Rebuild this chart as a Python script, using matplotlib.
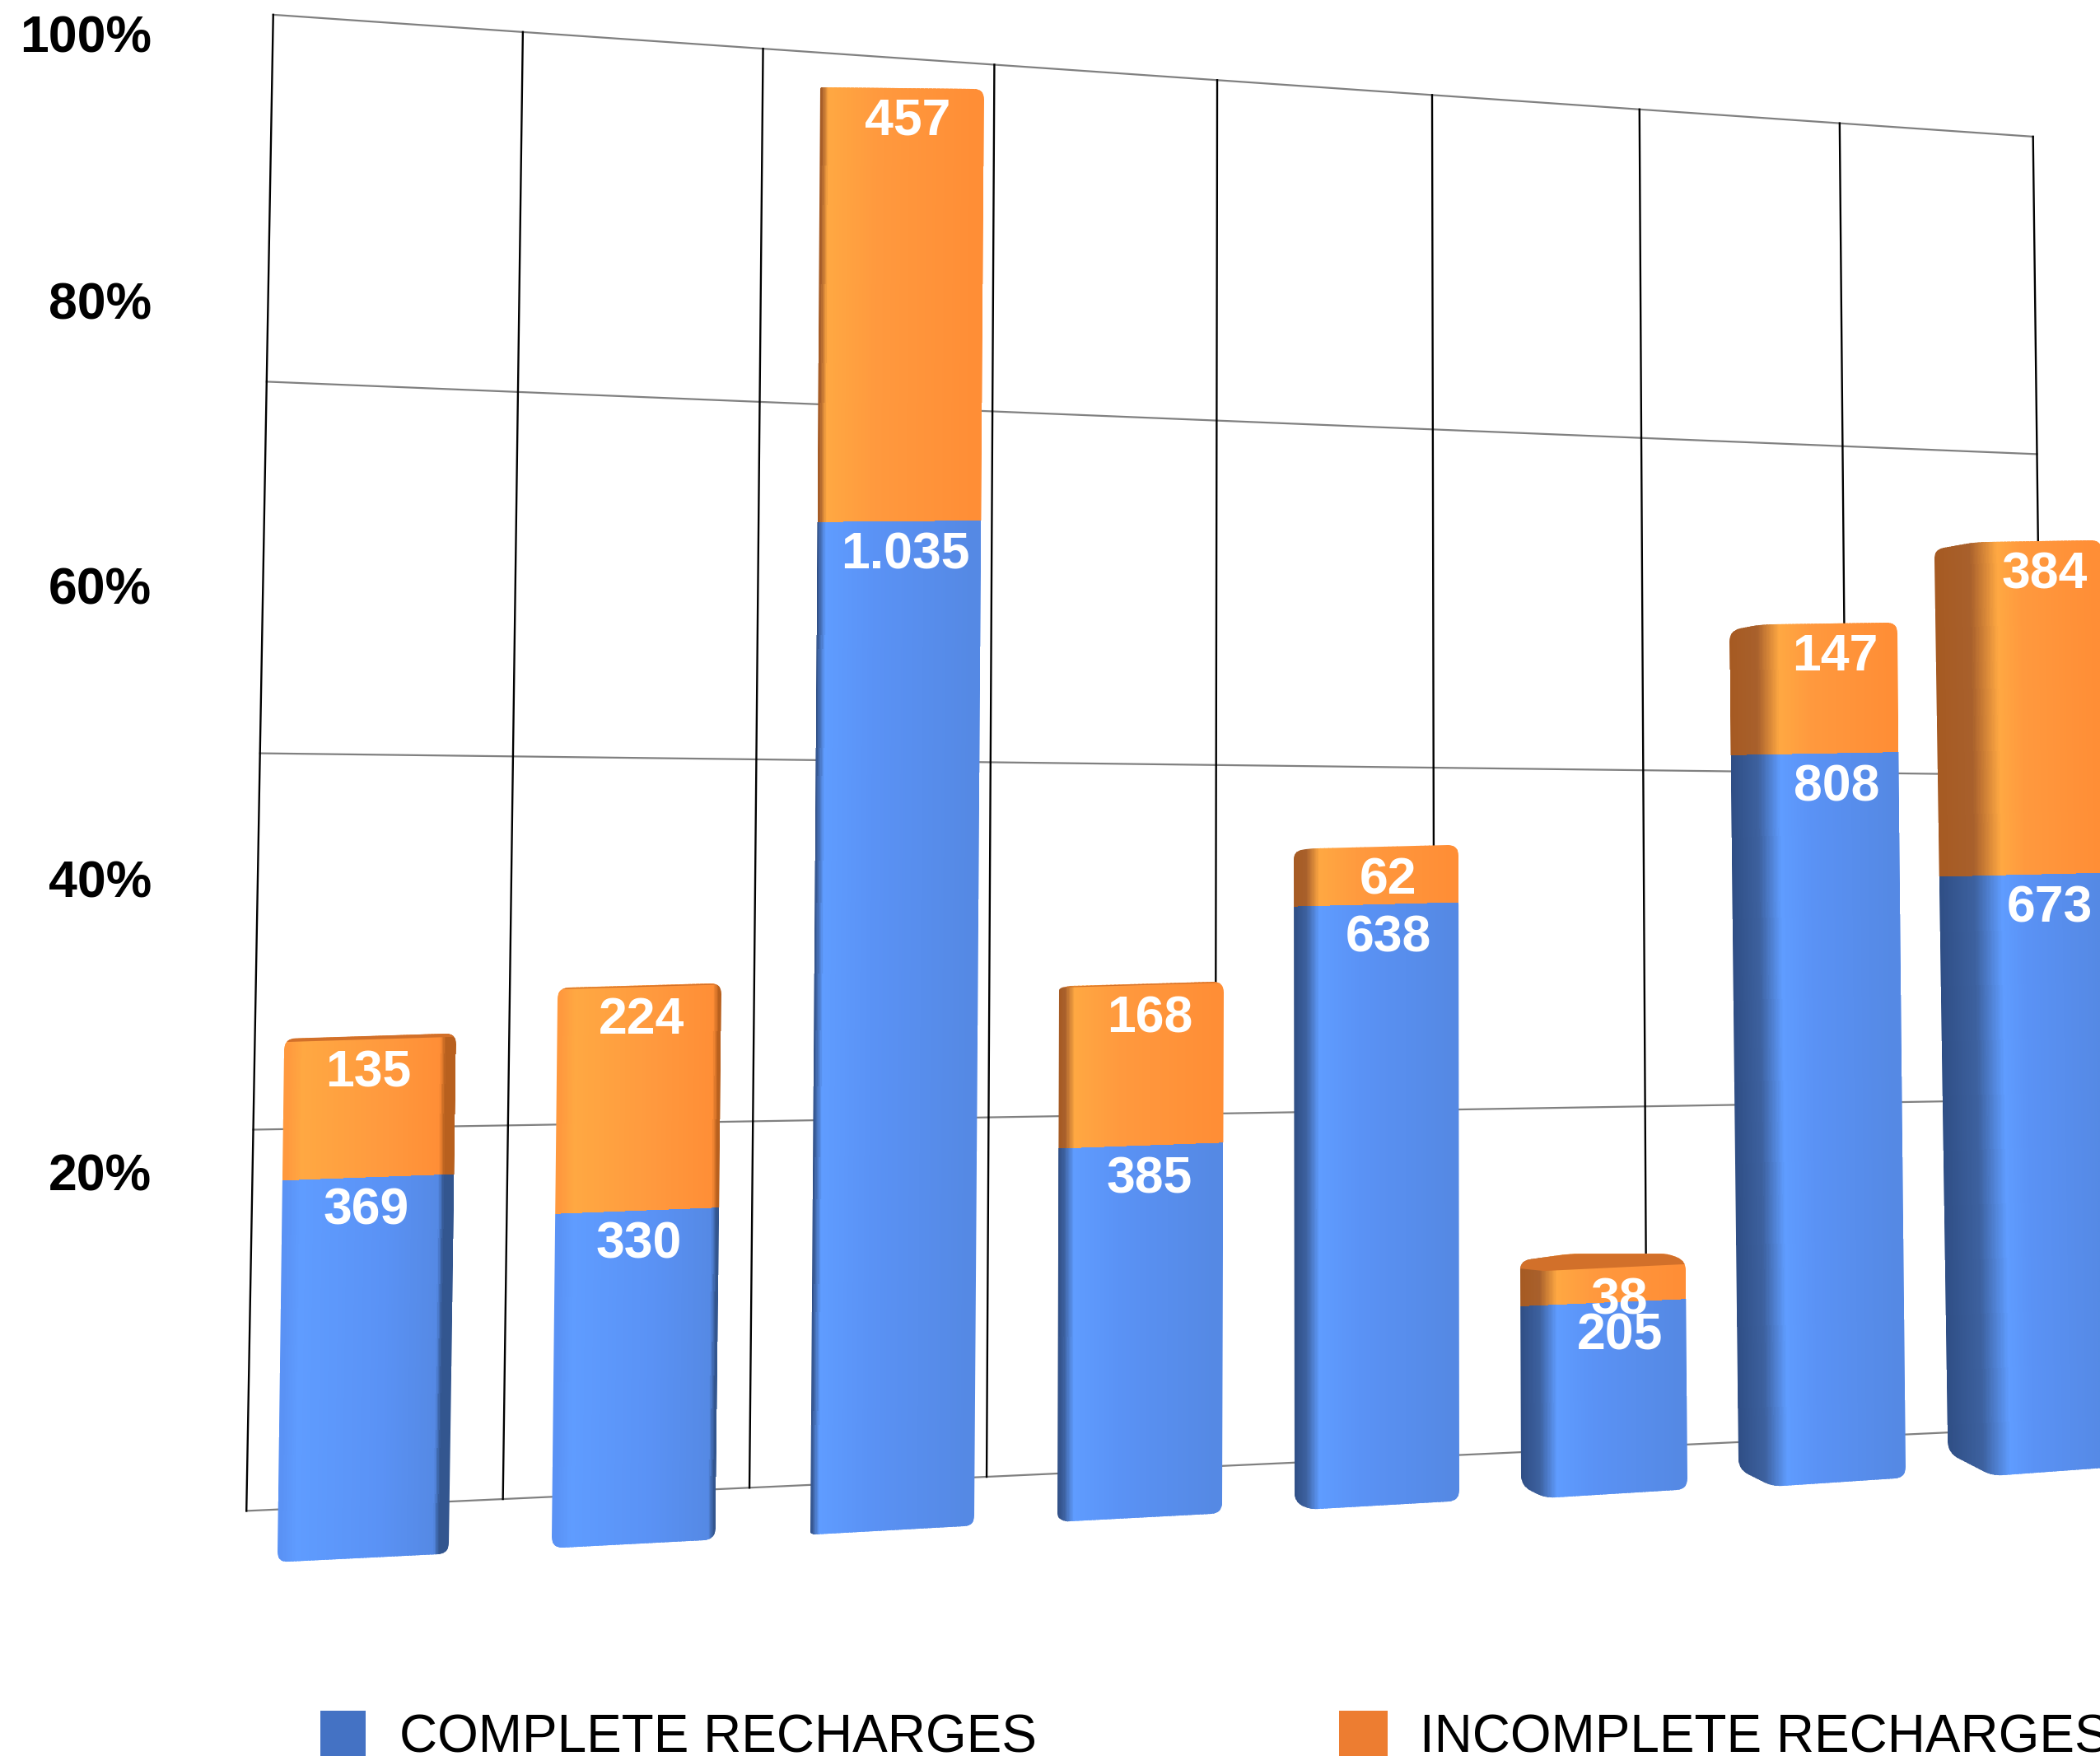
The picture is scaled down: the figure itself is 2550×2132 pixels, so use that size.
import numpy as np
import matplotlib
matplotlib.use("Agg")
import matplotlib.pyplot as plt
from matplotlib.path import Path
from matplotlib.patches import PathPatch, Rectangle
from matplotlib.colors import to_rgb

# ---- data ----
complete = [369, 330, 1035, 385, 638, 205, 808, 673]
incomplete = [135, 224, 457, 168, 62, 38, 147, 384]
tick_labels = ["100%", "80%", "60%", "40%", "20%"]
series_names = ["COMPLETE RECHARGES", "INCOMPLETE RECHARGES"]

# ---- layout (reference-pixel canvas, 1568 wide) ----
W, H = 1568, 1311
plt.rcParams['font.family'] = ['Liberation Sans', 'DejaVu Sans']
fig = plt.figure(figsize=(25.5, 21.32), dpi=100)
ax = fig.add_axes([0, 0, 1, 1])
ax.set_xlim(0, W)
ax.set_ylim(H, 0)
ax.axis("off")
ax.set_autoscale_on(False)


def homography(src, dst):
    A, b = [], []
    for (u, v), (x, y) in zip(src, dst):
        A.append([u, v, 1, 0, 0, 0, -u * x, -v * x]); b.append(x)
        A.append([0, 0, 0, u, v, 1, -u * y, -v * y]); b.append(y)
    h = np.linalg.solve(np.array(A, float), np.array(b, float))
    M = np.append(h, 1).reshape(3, 3)

    def project(u, v):
        d = M[2, 0] * u + M[2, 1] * v + 1
        return (M[0, 0] * u + M[0, 1] * v + M[0, 2]) / d, (M[1, 0] * u + M[1, 1] * v + M[1, 2]) / d
    return project


# back wall: u = category boundary 0..8, v = grid step 0..4
wall = homography([(0, 0), (0, 4), (8, 4), (8, 0)],
                  [(184, 1128), (204, 11), (1518, 102), (1530, 1066)])


# bar plane: u = category index, v = value
def front(u, v):
    d = 1 + 0.023 * u
    bx = (271 + 212.9 * u) / d
    by = (1163 + 16.0 * u) / d
    return bx + v * (0.011 - 0.003 * u), by - v * (1 - 1.8e-5 * v) * 0.775 / (1 + 0.0225 * u)


for k in range(5):
    p0, p1 = wall(0, k), wall(8, k)
    if k == 0:
        p1 = wall(8.5, k)
    ax.plot([p0[0], p1[0]], [p0[1], p1[1]], color="#808080", lw=1.6, zorder=1)
for k in range(9):
    p0, p1 = wall(k, 0), wall(k, 4)
    ax.plot([p0[0], p1[0]], [p0[1], p1[1]], color="black", lw=1.7, zorder=2)

BAR_WIDTHS = [128, 122, 122, 123, 123, 124, 125, 125]
PAL = {
    "blue": dict(dark="#2F4E85", dark2="#3D619F", bright="#5F9CFF", main="#5A92F5",
                 right="#5589E4", edge="#33568F"),
    "orange": dict(dark="#A65A22", dark2="#A8602C", bright="#FFA842", main="#FF993E",
                   right="#FF8E36", edge="#B8601E"),
}


def profile(pal, s, n, bw):
    t = np.linspace(0, bw, n)
    c = {k: np.array(to_rgb(v)) for k, v in pal.items()}
    if s > 0:
        xs = [0, s * 0.8, s * 1.3 + 4, s + 0.35 * (bw - s), bw - 6, bw]
        cs = [c["dark"], c["dark2"], c["bright"], c["main"], c["right"], c["right"]]
    else:
        r = -s
        xs = [0, 3, 14, 0.6 * bw, bw - r - 4, bw - r, bw]
        cs = [c["main"], c["main"], c["bright"], c["main"], c["right"], c["edge"], c["edge"]]
    return np.stack([np.interp(t, xs, [q[i] for q in cs]) for i in range(3)], axis=1)


def rounded(points, r):
    pts = []
    for p in points:
        p = np.array(p, float)
        if not pts or np.linalg.norm(p - pts[-1]) > 0.5:
            pts.append(p)
    verts, codes = [], []
    n = len(pts)
    for i in range(n):
        p, a, b = pts[i], pts[i - 1], pts[(i + 1) % n]
        rr = min(r, np.linalg.norm(a - p) / 2.01, np.linalg.norm(b - p) / 2.01)
        p1 = p + (a - p) / np.linalg.norm(a - p) * rr
        p2 = p + (b - p) / np.linalg.norm(b - p) * rr
        verts += [p1, p, p2]
        codes += [Path.MOVETO if i == 0 else Path.LINETO, Path.CURVE3, Path.CURVE3]
    verts.append(verts[0]); codes.append(Path.CLOSEPOLY)
    return Path(np.array(verts), codes)


def label(x, y, txt):
    ax.text(x, y, txt, color="white", fontsize=45, fontweight="bold",
            ha="center", va="center", zorder=8)


for i, (a, b) in enumerate(zip(complete, incomplete)):
    bw = BAR_WIDTHS[i]
    cx0, by = front(i, 0)
    cx1, ty = front(i, a + b)
    du = (bw / 2) / (front(i + 0.5, 0)[0] - front(i - 0.5, 0)[0])
    s = 33 * ((cx0 - 500) / 1017) ** 1.6 if cx0 > 500 else 0.03 * (cx0 - 500)

    def edge(v):
        xc, yc = front(i, v)
        yl = yc + (front(i - du, 0)[1] - by) + 0.5 * ((front(i - du, v)[1] - yc) - (front(i - du, 0)[1] - by))
        yr = yc + (front(i + du, 0)[1] - by) + 0.5 * ((front(i + du, v)[1] - yc) - (front(i + du, 0)[1] - by))
        return xc - bw / 2, yl, xc + bw / 2, yr

    xl0, yl0, xr0, yr0 = edge(0)
    xl1, yl1, xr1, yr1 = edge(a + b)
    sp = max(s, 0)
    cap = max(0.0, (ty - 720) * 0.045)
    # silhouette of the whole bar
    poly = [(xl0, yl0 - 0.5 * sp), (xl0 + sp, yl0 + 0.02 * sp), (xr0, yr0)]
    if cap > 4:
        poly += [(xr1, yr1 - 0.2 * cap), (xr1 - 0.1 * bw, ty - cap),
                 (xl1 + 0.3 * bw, ty - cap), (xl1, yl1 - 0.75 * cap)]
    else:
        poly += [(xr1, yr1 - cap), (xl1 + sp, yl1 - cap), (xl1, yl1 - cap + 0.18 * sp)]
    clip = PathPatch(rounded(poly, 8), transform=ax.transData, fc="none", ec="none")
    ax.add_patch(clip)

    n = 160
    for name, v0, v1 in (("blue", 0, a), ("orange", a, a + b)):
        c = profile(PAL[name], s, n - 1, bw)
        f = np.linspace(0, 1, n)
        xb = front(i, v0)[0] - bw / 2 + f * bw
        xt = front(i, v1)[0] - bw / 2 + f * bw
        _, ylb, _, yrb = edge(v0)
        _, ylt, _, yrt = edge(v1)
        yb = ylb + f * (yrb - ylb)
        yt = ylt + f * (yrt - ylt)
        if v0 == 0:
            yb = yb + 3
        if v1 == a + b:
            yt = yt - cap - 30
        X = np.vstack([xb, xt])
        Y = np.vstack([yb, yt])
        m = ax.pcolormesh(X, Y, c[np.newaxis, :, :], shading="flat", zorder=5, antialiased=False)
        m.set_clip_path(clip)

    # top face
    if cap > 0:
        top = [(xl1 - 2, yl1 - cap - 15), (xr1 + 2, yr1 - cap - 15), (xr1 + 2, yr1), (xl1 + sp, yl1)]
        if sp > 0:
            top.append((xl1 - 2, yl1 - 0.2 * cap))
        cp = ax.fill(*zip(*top), color="#D2702A", lw=0, zorder=6)[0]
        cp.set_clip_path(clip)

    # value labels
    lean_a = front(i, a)
    lean_t = front(i, a + b)
    off = s / 2 + (3.5 if s > 0 else 2)
    label(lean_a[0] + off, lean_a[1] + 25, f"{a:,}".replace(",", "."))
    label(lean_t[0] + off, lean_t[1] + 25, f"{b:,}".replace(",", "."))

# axis labels
tick_y = [29, 228, 441, 660, 879]
for t, y in zip(tick_labels, tick_y):
    ax.text(113, y, t, ha="right", va="center", fontsize=45, fontweight="bold", color="black", zorder=8)

# legend
ax.add_patch(Rectangle((239, 1277), 34, 34, fc="#4472C4", ec="none", zorder=3, clip_on=True))
ax.add_patch(Rectangle((1000, 1277), 36, 34, fc="#ED7D31", ec="none", zorder=3, clip_on=True))
ax.text(298, 1308, series_names[0], fontsize=46, va="baseline", ha="left", color="black", clip_on=True)
ax.text(1060, 1308, series_names[1], fontsize=46, va="baseline", ha="left", color="black", clip_on=True)

fig.savefig("out.png", dpi=100, facecolor="white")
